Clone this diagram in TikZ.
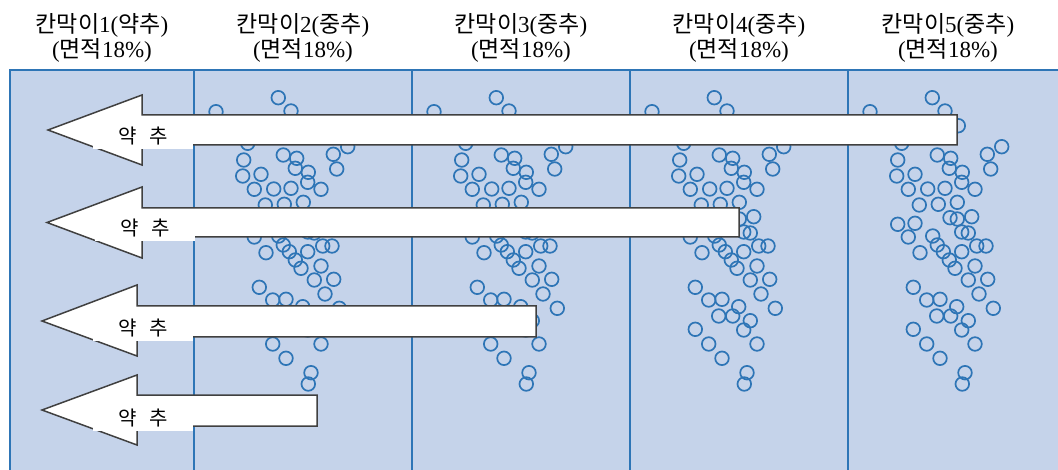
\documentclass[tikz,border=0pt]{standalone}
\usepackage{fontspec}
\setmainfont{Liberation Serif}
\newfontfamily\krfont{Noto Sans CJK KR}
\newcommand\hk[1]{{\krfont #1}}
\definecolor{panelfill}{RGB}{197,211,234}
\definecolor{panelline}{RGB}{46,117,182}
\definecolor{dotline}{RGB}{46,117,182}
\definecolor{arrowline}{RGB}{64,64,64}
\begin{document}
\begin{tikzpicture}[x=1pt,y=-1pt,
  partline/.style={draw=panelline, line width=2pt},
  dot/.style={draw=dotline, line width=1.7pt},
  blockarrow/.style={fill=white, draw=arrowline, line width=1.5pt, line join=miter},
  tag/.style={fill=white, inner sep=0pt, minimum width=100pt, minimum height=26pt, anchor=south, font=\krfont\fontsize{20}{22}\selectfont},
  head/.style={align=center, inner sep=0pt, font=\fontsize{23}{25}\selectfont}]
\useasboundingbox (0,0) rectangle (1058,470);
% panels
\fill[panelfill] (10,70) rectangle (1058,470);
\draw[partline] (10,470) -- (10,70) -- (1058,70);
\foreach \x in {194,412,630,848} \draw[partline] (\x,70) -- (\x,470);
% circles
\foreach \L in {194,412,630,848}{
  \foreach \a/\b in {84.3/97.7, 97/111, 22/111.7, 110.3/125.7, 53.7/143.3, 89.3/155, 102.7/158.3, 101.3/168.3, 49.7/160, 48.7/176, 67/174.3, 114.3/172.3, 113.7/182.3, 60.3/189.3, 79.7/189, 97/188.3, 127/189.3, 139.3/154.3, 153.7/146.7, 142.7/169, 71.3/205, 90.3/204.3, 109.3/202.3, 102/217.7, 109.3/219, 123.7/216.7, 49.7/224.3, 67/223.3, 84.7/236, 113.7/232, 120.3/233, 60.3/237, 72/252.7, 89.3/245, 95.3/251.7, 101.3/260, 107/268.3, 113.7/251.7, 128.7/246, 138/246, 127/266, 120.3/280, 139.7/279.3, 131/294, 145.3/308.3, 65.3/287.3, 78.7/300, 92/299.3, 88.7/316, 102.7/316, 108.7/306.7, 120.3/320.7, 113.7/330, 127/344, 65.3/329.3, 78.7/344, 92/358.3, 117/372.7, 114.3/384}{
    \draw[dot] (\L+\a,\b) circle[radius=6.8];
  }
}
% block arrows
\draw[blockarrow] (957,115) -- (142,115) -- (142,95) -- (48,130) -- (142,165) -- (142,145) -- (957,145) -- cycle;
\draw[blockarrow] (739,208) -- (142,208) -- (142,187) -- (47,222.5) -- (142,258) -- (142,237) -- (739,237) -- cycle;
\draw[blockarrow] (536,306) -- (137,306) -- (137,285) -- (42,321) -- (137,356) -- (137,337) -- (536,337) -- cycle;
\draw[blockarrow] (317,395) -- (137,395) -- (137,375) -- (42,410) -- (137,445) -- (137,426) -- (317,426) -- cycle;
% labels on arrows
\node[tag] (t1) at (143,149) {약\hspace{12pt}추};
\node[tag] (t2) at (145,241.5) {약\hspace{12pt}추};
\node[tag] (t3) at (143,341.5) {약\hspace{12pt}추};
\node[tag] (t4) at (143,431.5) {약\hspace{12pt}추};
% headings
\node[head] (h1) at (102,38) {\hk{칸막이}1(\hk{약추})\\(\hk{면적}18\%)};
\node[head] (h2) at (303,38) {\hk{칸막이}2(\hk{중추})\\(\hk{면적}18\%)};
\node[head] (h3) at (521,38) {\hk{칸막이}3(\hk{중추})\\(\hk{면적}18\%)};
\node[head] (h4) at (739,38) {\hk{칸막이}4(\hk{중추})\\(\hk{면적}18\%)};
\node[head] (h5) at (948,38) {\hk{칸막이}5(\hk{중추})\\(\hk{면적}18\%)};
\end{tikzpicture}
\end{document}
